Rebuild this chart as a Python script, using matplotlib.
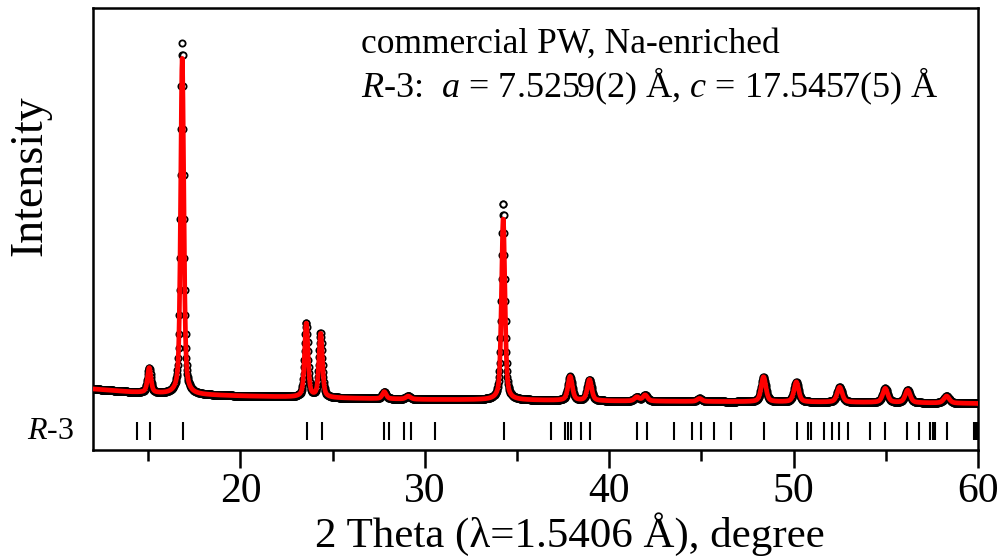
#!/usr/bin/env python3
# -*- coding: utf-8 -*-
"""XRD Rietveld plot: commercial PW, Na-enriched (R-3)."""
import numpy as np
import matplotlib
matplotlib.use("Agg")
import matplotlib.pyplot as plt

plt.rcParams['font.family'] = ['Liberation Serif', 'DejaVu Serif']
plt.rcParams['mathtext.fontset'] = 'custom'
plt.rcParams['mathtext.rm'] = 'Liberation Serif'
plt.rcParams['mathtext.it'] = 'Liberation Serif:italic'

# ---------- data ----------
# background control points (2theta, intensity a.u.)
bg_x = [12, 14, 16, 20, 25, 30, 35, 40, 45, 50, 55, 60]
bg_y = [61, 58, 56, 54, 52, 50.5, 50, 49, 48.5, 48, 47.5, 46.5]

# reflections seen in the pattern
peak_pos = [15.05, 16.84, 23.57, 24.35, 27.8, 29.1, 34.25, 37.88, 38.93,
            41.5, 41.95, 44.9, 48.37, 50.15, 52.5, 54.97, 56.19, 58.3]
peak_h_calc = [25, 336, 74, 64, 7, 3, 182, 24, 21,
               4, 6, 3, 25, 20, 15, 14, 12.5, 7]
peak_h_obs = [25, 351, 74, 64, 7, 3, 197, 24, 21,
              4, 6, 3, 25, 20, 15, 14, 12.5, 7]
peak_fwhm = [0.22, 0.20, 0.22, 0.22, 0.25, 0.3, 0.22, 0.28, 0.28,
             0.3, 0.3, 0.3, 0.3, 0.3, 0.32, 0.32, 0.32, 0.35]

# Bragg positions for R-3
bragg_pos = [14.37, 15.09, 16.9, 23.63, 24.4, 27.8, 28.05, 28.87, 29.24,
             30.56, 34.3, 36.83, 37.61, 37.79, 37.92, 38.46, 38.97, 41.5,
             42.04, 43.52, 44.48, 44.97, 45.66, 46.62, 48.37, 50.18, 50.76,
             50.94, 51.66, 52.08, 52.48, 52.93, 54.16, 54.97, 56.15, 56.78,
             57.38, 57.56, 57.68, 58.32, 59.77, 59.86, 59.95]

x_ticks = [20, 30, 40, 50, 60]

# ---------- profile ----------

def pattern(x, heights):
    y = np.interp(x, bg_x, bg_y)
    for p, h, w in zip(peak_pos, heights, peak_fwhm):
        g = np.exp(-4 * np.log(2) * ((x - p) / w) ** 2)
        l = 1.0 / (1.0 + 4 * ((x - p) / w) ** 2)
        y = y + h * (0.5 * g + 0.5 * l)
    return y

tth = np.arange(12, 60.001, 0.02)
y_obs = pattern(tth, peak_h_obs)
y_calc = pattern(tth, peak_h_calc)

# ---------- plotting ----------
fig = plt.figure(figsize=(10.02, 5.57), dpi=100)
ax = fig.add_axes([0.0928, 0.1921, 0.976 - 0.0928, 0.9856 - 0.1921])

ax.plot(tth, y_obs, 'o', ms=4.5, mfc='white', mec='black', mew=1.3, zorder=2)
ax.plot(tth, y_calc, '-', color='#ff0000', lw=3.4, zorder=3)
ax.vlines(bragg_pos, 10, 28, color='black', lw=1.5)

ax.set_xlim(12, 60)
ax.set_ylim(0, 442)
ax.set_xticks(x_ticks)
ax.set_xticks([15, 25, 35, 45, 55], minor=True)
ax.set_yticks([])
ax.tick_params(axis='x', which='major', direction='out', length=13, width=1.8,
               labelsize=30, pad=3)
ax.tick_params(axis='x', which='minor', direction='out', length=8, width=1.8)
for s in ax.spines.values():
    s.set_linewidth(1.8)

ax.set_xlabel("2 Theta (λ=1.5406 Å), degree", fontsize=31, labelpad=1)
ax.xaxis.label.set_x(0.539)
ax.set_ylabel("Intensity", fontsize=33)
ax.yaxis.set_label_coords(-0.047, 0.62)

ax.text(-0.075, 19, "$R$-3", transform=ax.get_yaxis_transform(),
        fontsize=23, ha='left', va='center')
ax.text(0.303, 0.898, "commercial PW, Na-enriched", transform=ax.transAxes,
        fontsize=25.5, ha='left', va='baseline')
ax.text(0.303, 0.7975, "$R$-3:  $a$ = 7.5259(2) Å, $c$ = 17.5457(5) Å",
        transform=ax.transAxes, fontsize=26, ha='left', va='baseline')

fig.savefig("out.png", dpi=100)
